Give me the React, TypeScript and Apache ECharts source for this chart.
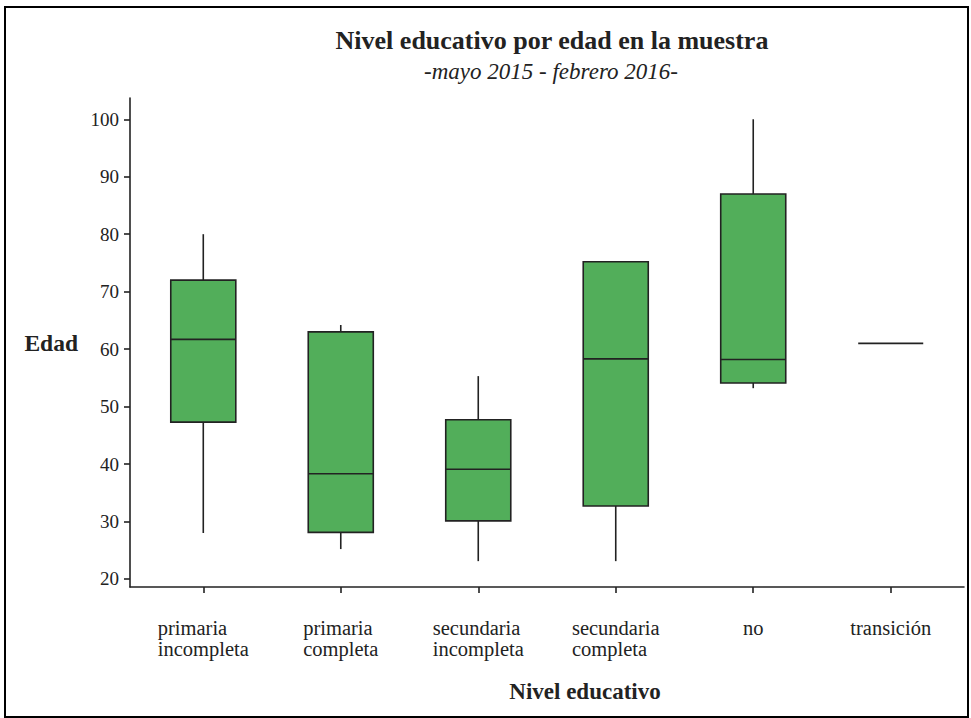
import React, { useEffect, useRef } from "react";
import * as echarts from "echarts";

const categories = [
  "primaria\nincompleta",
  "primaria\ncompleta",
  "secundaria\nincompleta",
  "secundaria\ncompleta",
  "no",
  "transición",
];
const minVals = [28, 25.2, 23.1, 23.1, 53.2, 61];
const q1Vals = [47.3, 28.1, 30.1, 32.7, 54.1, 61];
const medianVals = [61.7, 38.3, 39.1, 58.3, 58.2, 61];
const q3Vals = [72, 63, 47.7, 75.2, 87, 61];
const maxVals = [80, 64.2, 55.3, 75.2, 100, 61];
const yTicks = [20, 30, 40, 50, 60, 70, 80, 90, 100];

const FONT = "'Liberation Serif', 'DejaVu Serif', serif";
const INK = "#222";
const GREEN = "#52ae5a";

export default function App() {
  const ref = useRef<HTMLDivElement>(null);

  useEffect(() => {
    if (!ref.current) return;
    const chart = echarts.init(ref.current, null, { renderer: "svg" });

    const data = categories.map((_, i) => [
      i,
      minVals[i],
      q1Vals[i],
      medianVals[i],
      q3Vals[i],
      maxVals[i],
    ]);

    const renderItem = (params: any, api: any) => {
      const i = api.value(0);
      const vMin = api.value(1);
      const vQ1 = api.value(2);
      const vMed = api.value(3);
      const vQ3 = api.value(4);
      const vMax = api.value(5);
      const bw = api.size([1, 0])[0] * 0.473;
      const pMin = api.coord([i, vMin]);
      const pQ1 = api.coord([i, vQ1]);
      const pMed = api.coord([i, vMed]);
      const pQ3 = api.coord([i, vQ3]);
      const pMax = api.coord([i, vMax]);
      const cx = pMed[0];
      const lineStyle = { stroke: INK, lineWidth: 1.6, fill: "none" };
      const children: any[] = [];
      if (vMax > vQ3) {
        children.push({
          type: "line",
          shape: { x1: cx, y1: pMax[1], x2: cx, y2: pQ3[1] },
          style: lineStyle,
        });
      }
      if (vQ1 > vMin) {
        children.push({
          type: "line",
          shape: { x1: cx, y1: pQ1[1], x2: cx, y2: pMin[1] },
          style: lineStyle,
        });
      }
      if (vQ3 > vQ1) {
        children.push({
          type: "rect",
          shape: { x: cx - bw / 2, y: pQ3[1], width: bw, height: pQ1[1] - pQ3[1] },
          style: { fill: GREEN, stroke: INK, lineWidth: 1.6 },
        });
      }
      children.push({
        type: "line",
        shape: { x1: cx - bw / 2, y1: pMed[1], x2: cx + bw / 2, y2: pMed[1] },
        style: lineStyle,
      });
      return { type: "group", children };
    };

    chart.setOption({
      animation: false,
      backgroundColor: "#fff",
      grid: { left: 130, right: 7, top: 98, bottom: 131 },
      xAxis: {
        type: "value",
        min: -0.533,
        max: 5.533,
        name: "Nivel educativo",
        nameLocation: "middle",
        nameGap: 93,
        nameTextStyle: {
          fontFamily: FONT,
          fontWeight: "bold",
          fontSize: 23,
          color: INK,
          padding: [0, 0, 0, 76],
        },
        splitLine: { show: false },
        axisLine: { show: true, onZero: false, lineStyle: { color: INK, width: 1.6 } },
        axisTick: {
          show: true,
          length: 6,
          customValues: [0, 1, 2, 3, 4, 5],
          lineStyle: { color: INK, width: 1.6 },
        },
        axisLabel: {
          customValues: [0, 1, 2, 3, 4, 5],
          margin: 30,
          formatter: (v: number) => {
            const name = categories[Math.round(v)] || "";
            return name
              .split("\n")
              .map((l) => `{c|${l}}`)
              .join("\n");
          },
          rich: {
            c: {
              align: "left",
              fontFamily: FONT,
              fontSize: 20.5,
              lineHeight: 21,
              color: INK,
            },
          },
        },
      },
      yAxis: {
        type: "value",
        min: 18.6,
        max: 103.7,
        name: "Edad",
        nameLocation: "middle",
        nameRotate: 0,
        nameGap: 52,
        nameTextStyle: {
          fontFamily: FONT,
          fontWeight: "bold",
          fontSize: 23.5,
          color: INK,
        },
        splitLine: { show: false },
        axisLine: { show: true, onZero: false, lineStyle: { color: INK, width: 1.6 } },
        axisTick: {
          show: true,
          length: 6,
          customValues: yTicks,
          lineStyle: { color: INK, width: 1.6 },
        },
        axisLabel: {
          customValues: yTicks,
          margin: 11,
          fontFamily: FONT,
          fontSize: 19,
          color: INK,
        },
      },
      graphic: [
        {
          type: "rect",
          shape: { x: 5, y: 7, width: 963, height: 710 },
          style: { fill: "none", stroke: "#000", lineWidth: 2 },
          silent: true,
        },
        {
          type: "text",
          x: 552,
          y: 40,
          style: {
            text: "Nivel educativo por edad en la muestra",
            fontFamily: FONT,
            fontWeight: "bold",
            fontSize: 26,
            fill: INK,
            textAlign: "center",
            textVerticalAlign: "middle",
          },
        },
        {
          type: "text",
          x: 551,
          y: 71,
          style: {
            text: "-mayo 2015 - febrero 2016-",
            fontFamily: FONT,
            fontStyle: "italic",
            fontSize: 23,
            fill: INK,
            textAlign: "center",
            textVerticalAlign: "middle",
          },
        },
      ],
      series: [
        {
          type: "custom",
          renderItem,
          data,
          encode: { x: 0, y: [1, 2, 3, 4, 5] },
          clip: false,
        },
      ],
    });

    return () => chart.dispose();
  }, []);

  return (
    <div
      ref={ref}
      style={{ position: "fixed", left: 0, top: 0, width: 971, height: 718 }}
    />
  );
}
